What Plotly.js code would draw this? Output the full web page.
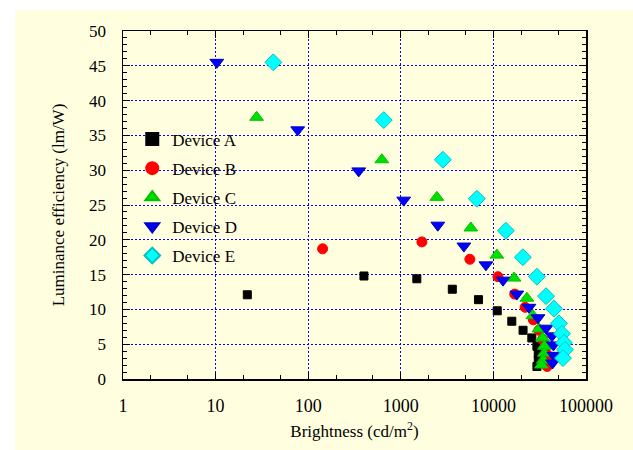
<!DOCTYPE html>
<html>
<head>
<meta charset="utf-8">
<script src="https://cdn.plot.ly/plotly-3.0.1.min.js"></script>
<style>html,body{margin:0;padding:0;background:#fff;}#chart{width:633px;height:450px;}</style>
</head>
<body>
<div id="chart"></div>
<script>
var seriesNames = ["Device A", "Device B", "Device C", "Device D", "Device E"];

var deviceA_x = [22, 400, 1490, 3600, 6900, 11000, 15800, 20900, 26000, 29500, 30500, 30500, 29500];
var deviceA_y = [12.1, 14.8, 14.4, 12.9, 11.4, 9.8, 8.3, 7.0, 5.9, 4.7, 3.7, 2.7, 1.8];

var deviceB_x = [143, 1690, 5570, 11200, 17000, 22000, 27000, 31000, 34000, 36000, 37500, 38000, 38000];
var deviceB_y = [18.7, 19.7, 17.2, 14.7, 12.2, 10.3, 8.5, 7.0, 5.7, 4.6, 3.6, 2.6, 1.8];

var deviceC_x = [27.7, 624, 2450, 5710, 10900, 16700, 23000, 26700, 31000, 34000, 35500, 35500, 34500, 33000];
var deviceC_y = [37.6, 31.5, 26.1, 21.7, 17.8, 14.5, 11.6, 9.1, 7.2, 5.9, 4.7, 3.7, 2.7, 2.0];

var deviceD_x = [10.3, 77, 351, 1075, 2510, 4800, 8300, 12700, 17900, 24200, 30300, 37000, 42900, 44500, 45000, 43500];
var deviceD_y = [45.5, 35.8, 29.9, 25.7, 22.1, 19.1, 16.4, 14.2, 12.2, 10.3, 8.8, 7.3, 6.2, 4.9, 3.4, 2.3];

var deviceE_x = [42, 655, 2845, 6630, 13650, 20800, 29500, 37000, 45100, 51000, 55000, 57800, 59300, 56400];
var deviceE_y = [45.5, 37.2, 31.5, 25.9, 21.3, 17.5, 14.7, 11.9, 10.1, 8.0, 6.5, 5.2, 4.2, 3.0];

var xTickVals = [1, 10, 100, 1000, 10000, 100000];
var xTickText = ["1", "10", "100", "1000", "10000", "100000"];

var serif = "Times New Roman";

function tr(i, xs, ys, sym, color, size, lineColor) {
  return {
    type: "scatter", mode: "markers", name: seriesNames[i], x: xs, y: ys,
    legendgroup: "g" + i,
    marker: {symbol: sym, color: color, size: size, line: {color: lineColor, width: 1}}
  };
}

var data = [
  tr(0, deviceA_x, deviceA_y, "square", "#000000", 8, "#000000"),
  tr(1, deviceB_x, deviceB_y, "circle", "#ff0000", 10, "#ff0000"),
  tr(2, deviceC_x, deviceC_y, "triangle-up", "#00e000", 12, "#00c000"),
  tr(3, deviceD_x, deviceD_y, "triangle-down", "#0000ff", 12, "#0000c0"),
  tr(4, deviceE_x, deviceE_y, "diamond", "#00ffff", 13, "#00c0c0")
];

var layout = {
  width: 633, height: 450,
  margin: {l: 123, r: 47, t: 31, b: 71},
  paper_bgcolor: "#ffffff",
  plot_bgcolor: "#ffffff",
  font: {family: serif, size: 17, color: "#000"},
  showlegend: true,
  legend: {x: 0.02, y: 0.74, xanchor: "left", yanchor: "top", bgcolor: "rgba(0,0,0,0)",
           font: {family: serif, size: 17, color: "#000"}, tracegroupgap: 4, itemsizing: "constant"},
  shapes: [{type: "rect", xref: "paper", yref: "paper", layer: "below",
            x0: -108/463, x1: 1.2, y0: -80/348, y1: 1 + 21/348,
            fillcolor: "#ffffe0", line: {width: 0}}],
  xaxis: {
    type: "log", range: [0, 5],
    tickvals: xTickVals, ticktext: xTickText,
    ticks: "inside", ticklen: 7, tickcolor: "#000", mirror: "ticks",
    showline: true, linecolor: "#000", linewidth: 1.5,
    showgrid: true, gridcolor: "#0000ff", griddash: "2px,2px", gridwidth: 1,
    zeroline: false, ticklabelstandoff: 10,
    minor: {ticks: "inside", ticklen: 4, tickcolor: "#000", showgrid: false},
    title: {text: "Brightness (cd/m<sup>2</sup>)", font: {family: serif, size: 17, color: "#000"}, standoff: 10},
    tickfont: {family: serif, size: 18, color: "#000"}
  },
  yaxis: {
    range: [0, 50], dtick: 5,
    ticks: "inside", ticklen: 7, tickcolor: "#000", mirror: "ticks",
    showline: true, linecolor: "#000", linewidth: 1.5,
    showgrid: true, gridcolor: "#0000ff", griddash: "2px,2px", gridwidth: 1,
    zeroline: false, ticklabelstandoff: 12,
    minor: {ticks: "inside", ticklen: 4, dtick: 1, tickcolor: "#000", showgrid: false},
    title: {text: "Luminance efficiency (lm/W)", font: {family: serif, size: 17, color: "#000"}, standoff: 20},
    tickfont: {family: serif, size: 17, color: "#000"}
  }
};

Plotly.newPlot("chart", data, layout, {displayModeBar: false, staticPlot: true});
</script>
</body>
</html>
